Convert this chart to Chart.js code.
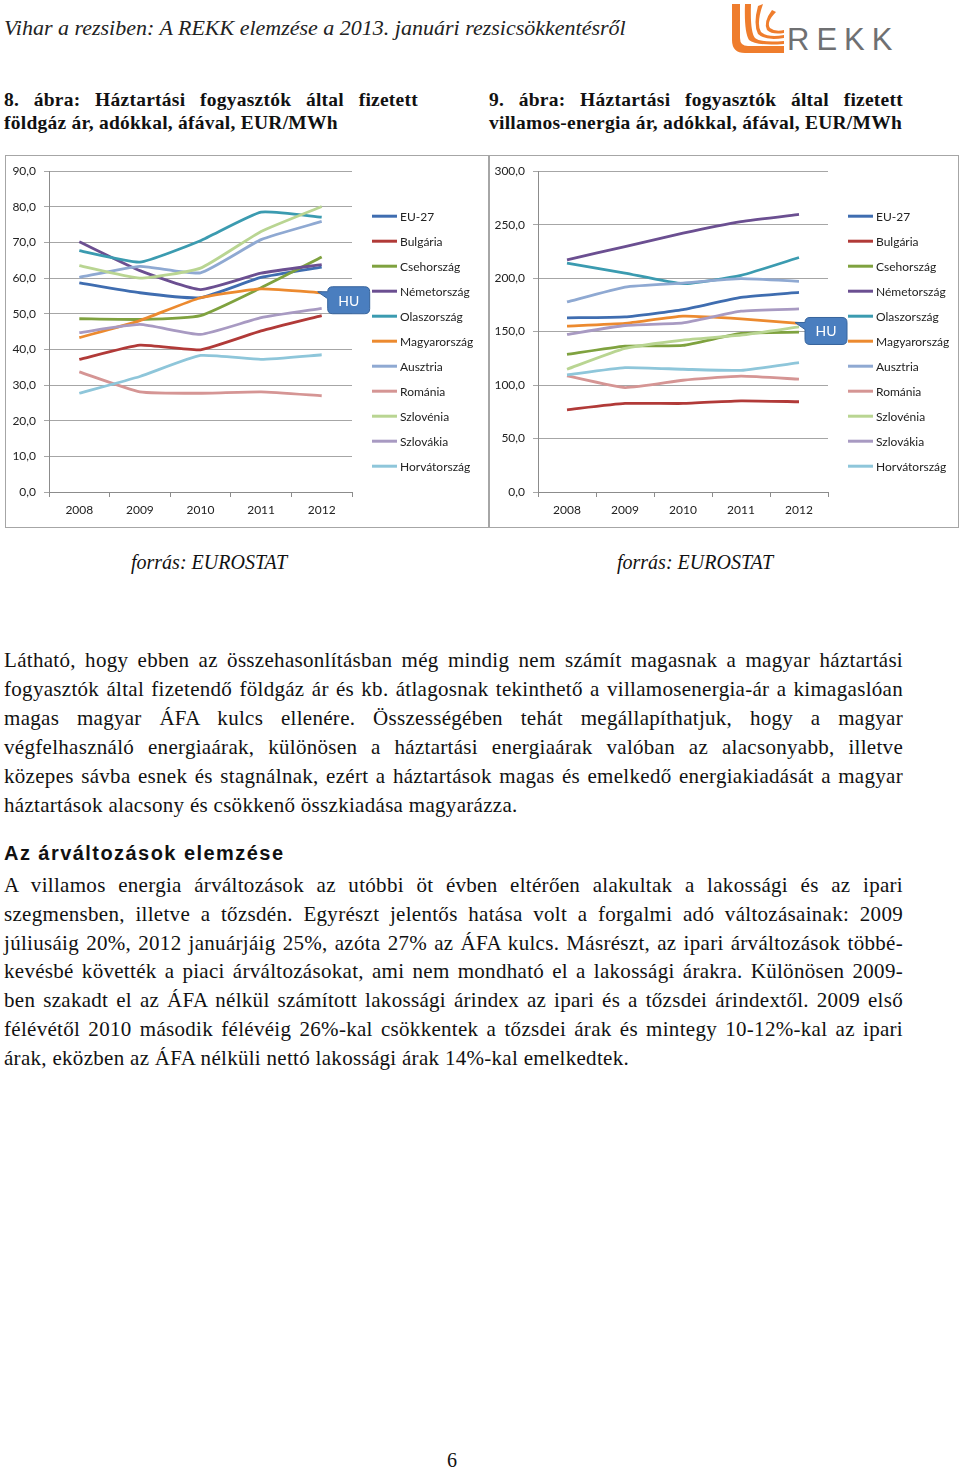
<!DOCTYPE html>
<html lang="hu">
<head>
<meta charset="utf-8">
<title>Vihar a rezsiben</title>
<script src="https://cdn.jsdelivr.net/npm/chart.js@4.4.1/dist/chart.umd.min.js"></script>
<style>
  body { margin: 0; background: #fff; }
  .page { position: relative; width: 960px; height: 1471px; overflow: hidden; font-family: "Liberation Serif", "Times New Roman", serif; color: #111; }
  .abs { position: absolute; }
  .head { left: 4px; top: 15px; font-size: 22px; font-style: italic; color: #222; white-space: nowrap; }
  .cap { font-weight: bold; font-size: 19.5px; letter-spacing: 0.25px; line-height: 23px; width: 414px; }
  .j { text-align: justify; text-align-last: justify; }
  .box { top: 155px; height: 371px; border: 1px solid #a6a6a6; background: #fff; }
  .src { top: 551px; font-size: 20px; font-style: italic; white-space: nowrap; }
  .para { left: 4px; width: 899px; font-size: 21px; letter-spacing: 0.3px; line-height: 29px; }
  .h2 { left: 4px; top: 842px; font-family: "Liberation Sans", Arial, sans-serif; font-weight: bold; font-size: 20px; letter-spacing: 1.45px; }
  canvas { position: absolute; }
</style>
</head>
<body>
<div class="page">
  <div class="abs head">Vihar a rezsiben: A REKK elemzése a 2013. januári rezsicsökkentésről</div>

  <svg class="abs" style="left:728px;top:2px" width="62" height="54" viewBox="0 0 62 54">
    <path d="M4 2 L12 2 L12 36 Q12 44 20 44 L56 44 L56 51 L17 51 Q4 51 4 38 Z" fill="#ef7d2d"/>
    <path d="M17 2 L23 2 Q22 30 27 36 Q33 41 56 39 L56 42 Q28 44 21 38 Q16 30 17 2 Z" fill="#ef7d2d"/>
    <path d="M30 4 L35 2 Q28 22 33 30 Q40 36 56 33 L56 36 Q37 39 30 32 Q25 22 30 4 Z" fill="#ef7d2d"/>
    <path d="M44 8 L48 10 Q38 20 42 26 Q47 30 56 28 L56 31 Q44 33 39 28 Q35 20 44 8 Z" fill="#ef7d2d"/>
  </svg>
  <div class="abs" style="left:787px;top:22px;font-family:'Liberation Sans',Arial,sans-serif;font-size:31px;letter-spacing:7px;color:#6f7072;">REKK</div>

  <div class="abs cap" style="left:4px;top:88px;">
    <div class="j">8. ábra: Háztartási fogyasztók által fizetett</div>
    <div>földgáz ár, adókkal, áfával, EUR/MWh</div>
  </div>
  <div class="abs cap" style="left:489px;top:88px;">
    <div class="j">9. ábra: Háztartási fogyasztók által fizetett</div>
    <div>villamos-energia ár, adókkal, áfával, EUR/MWh</div>
  </div>

  <div class="abs box" style="left:5px;width:482px;"></div>
  <div class="abs box" style="left:489px;width:468px;"></div>
  <canvas id="gasChart" width="482" height="370" style="left:6px;top:156px;"></canvas>
  <canvas id="powerChart" width="466" height="370" style="left:491px;top:156px;"></canvas>

  <div class="abs src" style="left:131px;">forrás: EUROSTAT</div>
  <div class="abs src" style="left:617px;">forrás: EUROSTAT</div>

  <div class="abs para" style="top:646px;">
    <div class="j">Látható, hogy ebben az összehasonlításban még mindig nem számít magasnak a magyar háztartási</div>
    <div class="j">fogyasztók által fizetendő földgáz ár és kb. átlagosnak tekinthető a villamosenergia-ár a kimagaslóan</div>
    <div class="j">magas magyar ÁFA kulcs ellenére. Összességében tehát megállapíthatjuk, hogy a magyar</div>
    <div class="j">végfelhasználó energiaárak, különösen a háztartási energiaárak valóban az alacsonyabb, illetve</div>
    <div class="j">közepes sávba esnek és stagnálnak, ezért a háztartások magas és emelkedő energiakiadását a magyar</div>
    <div>háztartások alacsony és csökkenő összkiadása magyarázza.</div>
  </div>

  <div class="abs h2">Az árváltozások elemzése</div>

  <div class="abs para" style="top:871px;line-height:28.8px;">
    <div class="j">A villamos energia árváltozások az utóbbi öt évben eltérően alakultak a lakossági és az ipari</div>
    <div class="j">szegmensben, illetve a tőzsdén. Egyrészt jelentős hatása volt a forgalmi adó változásainak: 2009</div>
    <div class="j">júliusáig 20%, 2012 januárjáig 25%, azóta 27% az ÁFA kulcs. Másrészt, az ipari árváltozások többé-</div>
    <div class="j">kevésbé követték a piaci árváltozásokat, ami nem mondható el a lakossági árakra. Különösen 2009-</div>
    <div class="j">ben szakadt el az ÁFA nélkül számított lakossági árindex az ipari és a tőzsdei árindextől. 2009 első</div>
    <div class="j">félévétől 2010 második félévéig 26%-kal csökkentek a tőzsdei árak és mintegy 10-12%-kal az ipari</div>
    <div>árak, eközben az ÁFA nélküli nettó lakossági árak 14%-kal emelkedtek.</div>
  </div>

  <div class="abs" style="left:447px;top:1449px;font-size:20px;">6</div>
</div>

<script>
const years = ['2008', '2009', '2010', '2011', '2012']
const countries = ['EU-27', 'Bulgária', 'Csehország', 'Németország', 'Olaszország', 'Magyarország',
    'Ausztria', 'Románia', 'Szlovénia', 'Szlovákia', 'Horvátország']
const colors = ['#3f6db0', '#b13a38', '#7fa23f', '#6b4f91', '#3b9bb0', '#ec8a2f',
    '#8fa9d2', '#d59594', '#b9d592', '#a89ac2', '#8ec6da']

// földgáz ár, EUR/MWh
const gasEU27 = [58.7, 55.9, 54.5, 60.2, 63.1]
const gasBulgaria = [37.2, 41.2, 39.9, 45.2, 49.5]
const gasCseh = [48.6, 48.4, 49.5, 57.3, 65.9]
const gasNemet = [70.2, 62.1, 56.8, 61.4, 63.8]
const gasOlasz = [67.7, 64.5, 70.5, 78.5, 77.1]
const gasMagyar = [43.3, 48.1, 54.5, 57.0, 55.9]
const gasAusztria = [60.2, 63.3, 61.5, 70.8, 75.9]
const gasRomania = [33.7, 28.1, 27.7, 28.1, 27.0]
const gasSzloven = [63.5, 60.0, 62.8, 73.1, 80.1]
const gasSzlovak = [44.7, 47.0, 44.2, 48.9, 51.5]
const gasHorvat = [27.7, 32.4, 38.3, 37.2, 38.5]

// villamos-energia ár, EUR/MWh
const powerEU27 = [162.9, 163.8, 170.6, 182.1, 186.7]
const powerBulgaria = [76.9, 82.8, 82.8, 85.3, 84.4]
const powerCseh = [128.7, 136.5, 137.1, 148.3, 149.5]
const powerNemet = [217.1, 229.5, 242.0, 252.8, 259.6]
const powerOlasz = [214.0, 204.7, 194.8, 202.6, 219.3]
const powerMagyar = [155.1, 157.6, 164.4, 161.9, 157.6]
const powerAusztria = [177.7, 191.7, 195.4, 199.5, 197.0]
const powerRomania = [108.6, 97.7, 104.5, 108.3, 105.5]
const powerSzloven = [114.8, 134.3, 142.1, 146.7, 154.5]
const powerSzlovak = [147.3, 155.7, 158.2, 169.1, 171.2]
const powerHorvat = [109.5, 116.3, 114.8, 113.8, 121.0]

const HU_INDEX = countries.indexOf('Magyarország')

Chart.defaults.font.family = "Lato, 'Open Sans', sans-serif"
Chart.defaults.font.size = 12
Chart.defaults.color = '#222'

// legend on the right side, Excel style (short line + name)
const sideLegend = {
    id: 'sideLegend',
    afterDraw(chart) {
        const ctx = chart.ctx
        const area = chart.chartArea
        const x0 = area.right + 20
        ctx.save()
        ctx.font = '12px Lato, sans-serif'
        ctx.textBaseline = 'middle'
        chart.data.datasets.forEach((ds, i) => {
            const y = area.top + 45 + i * 25
            ctx.strokeStyle = ds.borderColor
            ctx.lineWidth = 3
            ctx.beginPath()
            ctx.moveTo(x0, y)
            ctx.lineTo(x0 + 25, y)
            ctx.stroke()
            ctx.fillStyle = '#222'
            ctx.fillText(ds.label, x0 + 28, y + 0.5)
        })
        ctx.restore()
    }
}

// "HU" callout at the last Hungarian point
const huCallout = {
    id: 'huCallout',
    afterDatasetsDraw(chart) {
        const pts = chart.getDatasetMeta(HU_INDEX).data
        const p = pts[pts.length - 1]
        const ctx = chart.ctx
        const bx = p.x + 6, by = p.y - 6, bw = 42, bh = 27, r = 5
        ctx.save()
        ctx.fillStyle = '#4a7ebf'
        ctx.strokeStyle = '#37649c'
        ctx.lineWidth = 1
        ctx.beginPath()
        ctx.moveTo(bx + r, by)
        ctx.lineTo(bx + bw - r, by)
        ctx.quadraticCurveTo(bx + bw, by, bx + bw, by + r)
        ctx.lineTo(bx + bw, by + bh - r)
        ctx.quadraticCurveTo(bx + bw, by + bh, bx + bw - r, by + bh)
        ctx.lineTo(bx + r, by + bh)
        ctx.quadraticCurveTo(bx, by + bh, bx, by + bh - r)
        ctx.lineTo(bx, by + 12)
        ctx.lineTo(p.x - 4, p.y - 1)
        ctx.lineTo(bx, by + 5)
        ctx.quadraticCurveTo(bx, by, bx + r, by)
        ctx.closePath()
        ctx.fill()
        ctx.stroke()
        ctx.fillStyle = '#fff'
        ctx.font = '14px Lato, sans-serif'
        ctx.textAlign = 'center'
        ctx.textBaseline = 'middle'
        ctx.fillText('HU', bx + bw / 2, by + bh / 2 + 1)
        ctx.restore()
    }
}

function buildChart(canvasId, series, yMax, yStep, axisWidth, rightPad) {
    return new Chart(document.getElementById(canvasId), {
        type: 'line',
        data: {
            labels: years,
            datasets: countries.map((name, i) => ({
                label: name,
                data: series[i],
                borderColor: colors[i],
                backgroundColor: colors[i],
                borderWidth: 2.8,
                pointRadius: 0,
                tension: 0.15,
                fill: false,
                order: -i
            }))
        },
        options: {
            responsive: false,
            animation: false,
            layout: { padding: { top: 13, right: rightPad, bottom: 0, left: 0 } },
            plugins: { legend: { display: false }, tooltip: { enabled: false } },
            scales: {
                x: {
                    offset: true,
                    grid: { offset: true, drawOnChartArea: false, tickLength: 5, color: '#8c8c8c' },
                    border: { color: '#8c8c8c' },
                    ticks: { padding: 6 },
                    afterFit: s => { s.height = 34 }
                },
                y: {
                    min: 0,
                    max: yMax,
                    ticks: {
                        stepSize: yStep,
                        padding: 8,
                        callback: v => v.toFixed(1).replace('.', ',')
                    },
                    grid: { color: '#a6a6a6', tickLength: 5 },
                    border: { color: '#8c8c8c' },
                    afterFit: s => { s.width = axisWidth }
                }
            }
        },
        plugins: [sideLegend, huCallout]
    })
}

const gasChart = buildChart('gasChart',
    [gasEU27, gasBulgaria, gasCseh, gasNemet, gasOlasz, gasMagyar, gasAusztria, gasRomania, gasSzloven, gasSzlovak, gasHorvat],
    90, 10, 43, 136)

const powerChart = buildChart('powerChart',
    [powerEU27, powerBulgaria, powerCseh, powerNemet, powerOlasz, powerMagyar, powerAusztria, powerRomania, powerSzloven, powerSzlovak, powerHorvat],
    300, 50, 47, 129)
</script>
</body>
</html>
